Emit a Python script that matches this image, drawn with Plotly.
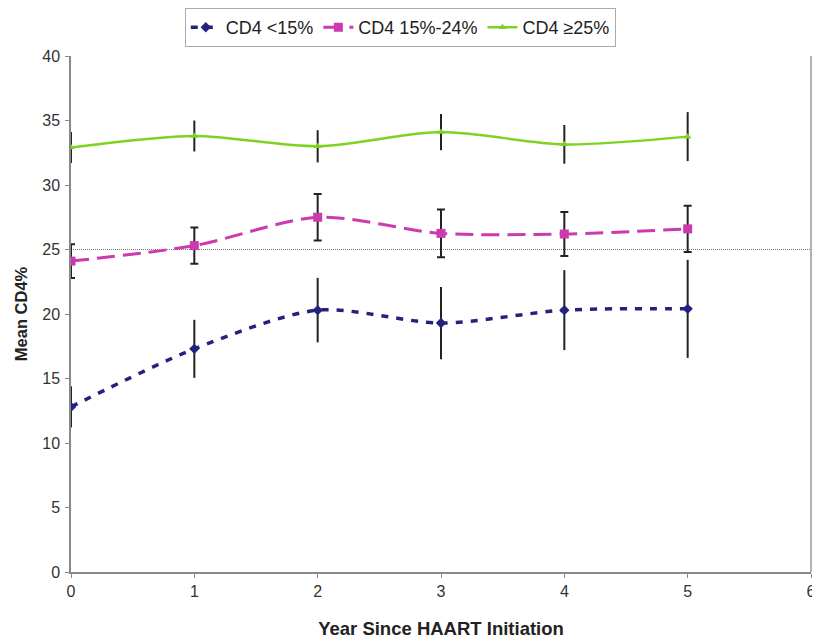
import plotly.graph_objects as go

years = [0, 1, 2, 3, 4, 5]
low_mean = [12.8, 17.3, 20.3, 19.3, 20.3, 20.4]
low_err = [1.6, 2.25, 2.5, 2.8, 3.1, 3.8]
mid_mean = [24.1, 25.3, 27.5, 26.25, 26.2, 26.6]
mid_err = [1.3, 1.4, 1.8, 1.85, 1.7, 1.8]
high_mean = [32.9, 33.8, 33.0, 34.1, 33.15, 33.75]
high_err = [1.2, 1.2, 1.25, 1.4, 1.5, 1.9]
ref_level = 25
series_names = ["CD4 <15%", "CD4 15%-24%", "CD4 ≥25%"]

fig = go.Figure()

# reference line
fig.add_trace(go.Scatter(x=[0, 6], y=[ref_level, ref_level], mode="lines",
                         line=dict(color="#777777", width=1, dash="1px,1px"),
                         showlegend=False, hoverinfo="skip"))

fig.add_trace(go.Scatter(
    x=years, y=low_mean, name=series_names[0], mode="lines+markers",
    line=dict(color="#23237E", width=3.5, dash="7px,8px", shape="spline", smoothing=0.8),
    marker=dict(symbol="diamond", size=8, color="#23237E"),
    error_y=dict(type="data", array=low_err, color="#222222", thickness=2, width=0)))

fig.add_trace(go.Scatter(
    x=years, y=mid_mean, name=series_names[1], mode="lines+markers",
    line=dict(color="#CC3AAE", width=3, dash="18px,8px", shape="spline", smoothing=0.8),
    marker=dict(symbol="square", size=9, color="#CC3AAE"),
    error_y=dict(type="data", array=mid_err, color="#222222", thickness=2, width=4)))

fig.add_trace(go.Scatter(
    x=years, y=high_mean, name=series_names[2], mode="lines+markers",
    line=dict(color="#7ED321", width=2.5, shape="spline", smoothing=0.8),
    marker=dict(symbol="triangle-up", size=7, color="#7ED321"),
    error_y=dict(type="data", array=high_err, color="#222222", thickness=2, width=0)))

# page has an 8px body margin, so the figure is 812x635 and margins are shifted
fig.update_layout(
    width=812, height=635,
    margin=dict(l=63, r=9, t=48, b=71, autoexpand=False),
    paper_bgcolor="white", plot_bgcolor="white",
    font=dict(family="Liberation Sans, Arial, sans-serif", size=16, color="#333333"),
    legend=dict(orientation="h", x=0.445, xanchor="center", y=1.093, yanchor="top",
                bordercolor="#aaaaaa", borderwidth=1, font=dict(size=18, color="#222222"),
                bgcolor="white", tracegroupgap=0, itemwidth=30),
    xaxis=dict(range=[0, 6], tickvals=[0, 1, 2, 3, 4, 5, 6], showgrid=False, zeroline=False,
               showline=True, linecolor="#888888", linewidth=1.5, mirror=False,
               ticks="outside", ticklen=4, tickcolor="#888888", ticklabelstandoff=0,
               ticklabeloverflow="allow",
               title=dict(text="<b>Year Since HAART Initiation</b>",
                          font=dict(size=18.5, color="#222222"), standoff=23)),
    yaxis=dict(range=[0, 40], tickvals=[0, 5, 10, 15, 20, 25, 30, 35, 40], showgrid=False,
               zeroline=False, showline=True, linecolor="#888888", linewidth=1.5,
               ticks="outside", ticklen=4, tickcolor="#888888", ticklabelstandoff=2,
               title=dict(text="<b>Mean CD4%</b>", font=dict(size=16.5, color="#222222"),
                          standoff=10)),
)

# right border line
fig.add_shape(type="line", xref="paper", yref="paper", x0=1, x1=1, y0=0, y1=1,
              line=dict(color="#999999", width=1.5))

fig.write_html("out.html")
